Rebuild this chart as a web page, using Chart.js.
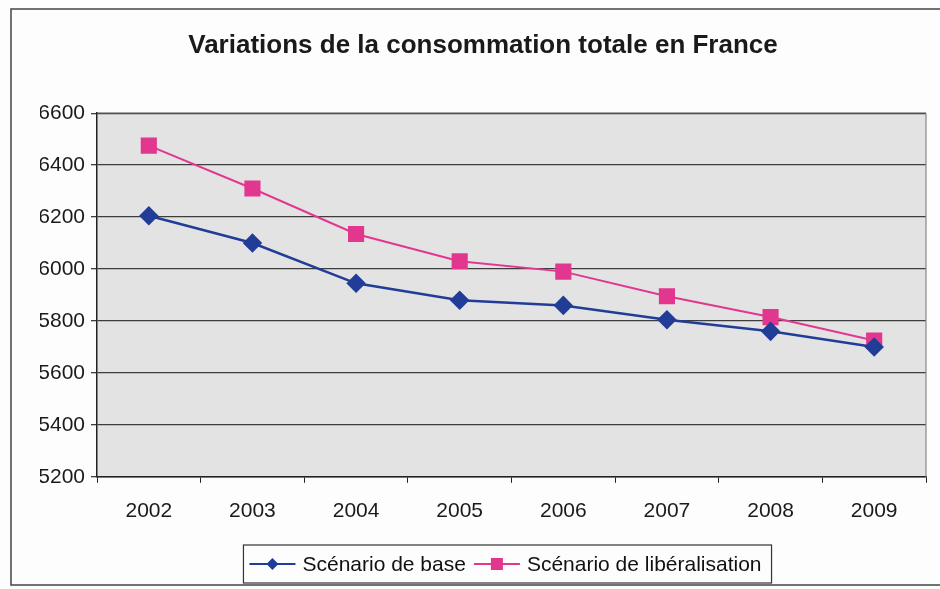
<!DOCTYPE html>
<html lang="fr">
  <head>
    <meta charset="UTF-8" />
    <title>Variations de la consommation totale en France</title>
    <style>
      html, body { margin: 0; padding: 0; background: #fdfdfd; }
      #wrap { width: 940px; height: 589px; }
    </style>
  </head>
  <body>
    <div id="wrap"><canvas id="myChart" width="940" height="589"></canvas></div>

    <script src="https://cdn.jsdelivr.net/npm/chart.js@4/dist/chart.umd.min.js"></script>
    <script>
      // data
      const years = ["2002", "2003", "2004", "2005", "2006", "2007", "2008", "2009"];
      const scenarioBase = [6205, 6100, 5945, 5880, 5860, 5805, 5760, 5700];
      const scenarioLiberal = [6475, 6310, 6135, 6030, 5990, 5895, 5815, 5725];
      const yTicks = [5200, 5400, 5600, 5800, 6000, 6200, 6400, 6600];

      const blue = "#213d97";
      const pink = "#e2378f";
      const font = "'Liberation Sans', Arial, sans-serif";

      // frame, plot background and plot border
      const framePlugin = {
        id: "frame",
        beforeDraw(chart) {
          const c = chart.ctx;
          const a = chart.chartArea;
          c.save();
          c.fillStyle = "#fdfdfd";
          c.fillRect(0, 0, chart.width, chart.height);
          c.strokeStyle = "#444";
          c.lineWidth = 1.5;
          c.beginPath();
          c.moveTo(950, 9);
          c.lineTo(11, 9);
          c.lineTo(11, 585);
          c.lineTo(950, 585);
          c.stroke();
          c.fillStyle = "#e3e3e4";
          c.fillRect(a.left, a.top, a.right - a.left, a.bottom - a.top);
          c.restore();
        },
        afterDatasetsDraw(chart) {
          const c = chart.ctx;
          const a = chart.chartArea;
          c.save();
          c.strokeStyle = "#555";
          c.lineWidth = 1.2;
          c.beginPath();
          c.moveTo(a.left, a.top);
          c.lineTo(a.right, a.top);
          c.stroke();
          c.strokeStyle = "#888";
          c.beginPath();
          c.moveTo(a.right, a.top);
          c.lineTo(a.right, a.bottom);
          c.stroke();
          c.restore();
        },
      };

      // Excel style legend: line with marker, boxed
      const legendPlugin = {
        id: "boxLegend",
        afterDraw(chart) {
          const c = chart.ctx;
          const a = chart.chartArea;
          c.save();
          c.font = "21px " + font;
          c.textBaseline = "middle";
          const items = chart.data.datasets.map((ds) => ({
            label: ds.label,
            color: ds.borderColor,
            style: ds.pointStyle,
            w: c.measureText(ds.label).width,
          }));
          const lineW = 46;
          let total = 8;
          items.forEach((it) => (total += lineW + 7 + it.w + 8));
          const cx = (a.left + a.right) / 2 - 4;
          const left = cx - total / 2;
          const top = 545;
          const h = 38;
          const cy = top + h / 2;

          c.fillStyle = "#fdfdfd";
          c.fillRect(left, top, total, h);
          c.strokeStyle = "#333";
          c.lineWidth = 1.2;
          c.strokeRect(left, top, total, h);

          let x = left + 6;
          items.forEach((it) => {
            c.strokeStyle = it.color;
            c.lineWidth = 2;
            c.beginPath();
            c.moveTo(x, cy);
            c.lineTo(x + lineW, cy);
            c.stroke();
            c.fillStyle = it.color;
            const mx = x + lineW / 2;
            c.beginPath();
            if (it.style === "rectRot") {
              c.moveTo(mx, cy - 6);
              c.lineTo(mx + 6, cy);
              c.lineTo(mx, cy + 6);
              c.lineTo(mx - 6, cy);
            } else {
              c.rect(mx - 6, cy - 6, 12, 12);
            }
            c.closePath();
            c.fill();
            c.fillStyle = "#111";
            c.fillText(it.label, x + lineW + 7, cy + 1);
            x += lineW + 7 + it.w + 8;
          });
          c.restore();
        },
      };

      const ctx = document.getElementById("myChart").getContext("2d");

      new Chart(ctx, {
        type: "line",
        data: {
          labels: years,
          datasets: [
            {
              label: "Scénario de base",
              data: scenarioBase,
              borderColor: blue,
              backgroundColor: blue,
              borderWidth: 2.5,
              pointStyle: "rectRot",
              pointRadius: 8,
              pointHoverRadius: 8,
              tension: 0,
            },
            {
              label: "Scénario de libéralisation",
              data: scenarioLiberal,
              borderColor: pink,
              backgroundColor: pink,
              borderWidth: 2,
              pointStyle: "rect",
              pointRadius: 10,
              pointHoverRadius: 10,
              tension: 0,
            },
          ],
        },
        options: {
          responsive: false,
          animation: false,
          layout: {
            padding: { top: 30, left: 40, right: 14, bottom: 49 },
          },
          plugins: {
            legend: { display: false },
            tooltip: { enabled: false },
            title: {
              display: true,
              text: "Variations de la consommation totale en France",
              color: "#1a1a1a",
              font: { family: font, size: 26, weight: "bold" },
              padding: { top: 0, bottom: 52 },
            },
          },
          scales: {
            x: {
              offset: true,
              grid: {
                display: true,
                drawOnChartArea: false,
                offset: true,
                tickLength: 6,
                color: "#222",
              },
              border: { color: "#222", width: 1.5 },
              ticks: {
                color: "#1a1a1a",
                padding: 16,
                font: { family: font, size: 21 },
              },
            },
            y: {
              min: 5200,
              max: 6600,
              afterFit(scale) {
                scale.width = 57;
              },
              afterBuildTicks(scale) {
                scale.ticks = yTicks.map((v) => ({ value: v }));
              },
              grid: {
                color: "#3d3d3d",
                lineWidth: 1.3,
                tickLength: 6,
              },
              border: { color: "#222", width: 1.5 },
              ticks: {
                color: "#1a1a1a",
                padding: 6,
                font: { family: font, size: 21 },
                callback: (v) => String(v),
              },
            },
          },
        },
        plugins: [framePlugin, legendPlugin],
      });
    </script>
  </body>
</html>
